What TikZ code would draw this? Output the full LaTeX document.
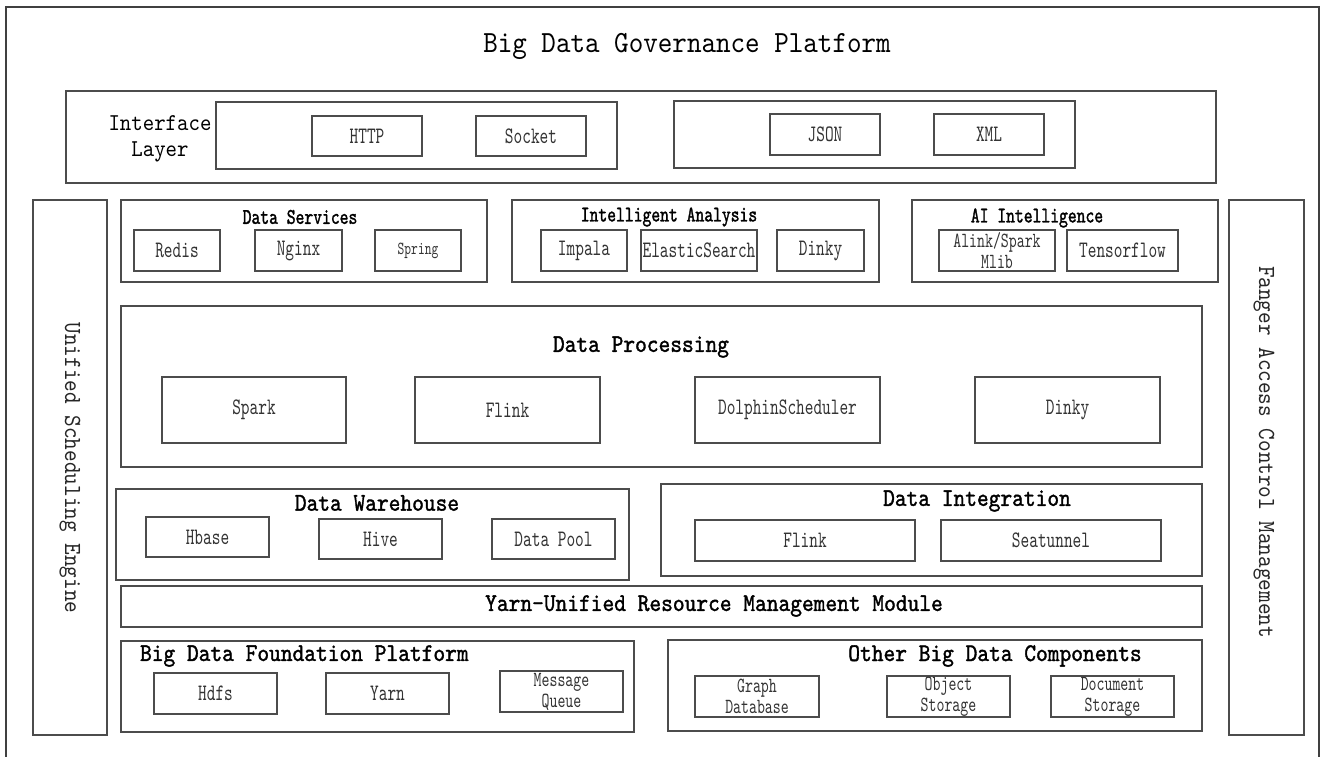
\documentclass[tikz,border=0pt]{standalone}
\usepackage{fontspec}
\setmainfont{lmmono10-regular.otf}[FakeStretch=0.9]
\newfontfamily\condfont{lmmono10-regular.otf}[FakeStretch=0.7]
\newfontfamily\headfont{lmmono10-regular.otf}[FakeStretch=0.88, FakeBold=1.4]
\newfontfamily\subheadfont{lmmono10-regular.otf}[FakeStretch=0.75, FakeBold=1.4]
\usetikzlibrary{fit}
\tikzset{
	frame/.style={draw=black!70, line width=0.7pt, inner sep=0pt},
	wh/.style 2 args={minimum width=#1*0.5pt, minimum height=#2*0.5pt},
	item/.style={frame, text=black!80, align=center, font=\condfont\fontsize{11.8}{12}\selectfont},
	twoline/.style={item, font=\condfont\fontsize{10.8}{10.6}\selectfont},
	head/.style={text=black, font=\subheadfont\fontsize{11.2}{12}\selectfont},
	layer/.style={text=black, font=\headfont\fontsize{12.7}{14}\selectfont},
	side/.style={text=black!85, rotate=-90, font=\fontsize{12.3}{14}\selectfont},
}
\begin{document}
\begin{tikzpicture}[x=0.5pt, y=-0.5pt]
	\useasboundingbox (0,0) rectangle (1320,756);
	% 外框
	\draw [black!75, line width=0.8pt] (6,770) -- (6,7) -- (1319,7) -- (1319,770);
	\node [font=\fontsize{15.4}{17}\selectfont] (title) at (687,46) {Big Data Governance Platform};
	% 接口层
	\node [frame, fit={(66,91) (1216,183)}] (iface) {};
	\node [align=center, font=\fontsize{12.1}{13}\selectfont] (ifacelabel) at (160,139) {Interface\\Layer};
	\node [frame, fit={(216,102) (617,169)}] (proto) {};
	\node [frame, fit={(674,101) (1075,168)}] (format) {};
	\node [item, wh={110}{40}] (http) at (367,136) {HTTP};
	\node [item, wh={110}{40}] (socket) at (531,136) {Socket};
	\node [item, wh={110}{41}] (json) at (825,134.5) {JSON};
	\node [item, wh={110}{41}] (xml) at (989,134.5) {XML};
	% 两侧
	\node [frame, fit={(33,200) (107,735)}] (sched) {};
	\node [side] (schedlabel) at (70,468) {Unified Scheduling Engine};
	\node [frame, fit={(1229,200) (1304,735)}] (acl) {};
	\node [side] (acllabel) at (1264,452) {Fanger Access Control Management};
	% 服务与分析
	\node [frame, fit={(121,200) (487,282)}] (svc) {};
	\node [head] (svclabel) at (300,217) {Data Services};
	\node [item, wh={86}{41}] (redis) at (177,250.5) {Redis};
	\node [item, wh={87}{41}] (nginx) at (298.5,250.5) {Nginx};
	\node [item, wh={86}{41}, font=\condfont\fontsize{9.2}{9}\selectfont] (spring) at (418,250.5) {Spring};
	\node [frame, fit={(512,200) (879,282)}] (ana) {};
	\node [head] (analabel) at (669,217) {Intelligent Analysis};
	\node [item, wh={86}{41}] (impala) at (584,250.5) {Impala};
	\node [item, wh={116}{41}] (es) at (699,250.5) {ElasticSearch};
	\node [item, wh={87}{41}] (dinkya) at (820.5,250.5) {Dinky};
	\node [frame, fit={(912,200) (1218,282)}] (ai) {};
	\node [head] (ailabel) at (1037,218) {AI Intelligence};
	\node [twoline, wh={116}{41}] (alink) at (997,250.5) {Alink/Spark\\Mlib};
	\node [item, wh={111}{41}] (tf) at (1122.5,250.5) {Tensorflow};
	% 数据处理
	\node [frame, fit={(121,306) (1202,467)}] (proc) {};
	\node [layer] (proclabel) at (641,347) {Data Processing};
	\node [item, wh={184}{66}] (spark) at (254,410) {Spark};
	\node [item, wh={185}{66}] (flinkp) at (507.5,410) {Flink};
	\node [item, wh={185}{66}] (dolphin) at (787.5,410) {DolphinScheduler};
	\node [item, wh={185}{66}] (dinkyp) at (1067.5,410) {Dinky};
	% 数仓与集成
	\node [frame, fit={(116,489) (629,580)}] (dw) {};
	\node [layer] (dwlabel) at (377,503) {Data Warehouse};
	\node [item, wh={123}{40}] (hbase) at (207.5,537) {Hbase};
	\node [item, wh={123}{40}] (hive) at (380.5,539) {Hive};
	\node [item, wh={123}{40}] (pool) at (553.5,539) {Data Pool};
	\node [frame, fit={(661,484) (1202,576)}] (di) {};
	\node [layer] (dilabel) at (977,501) {Data Integration};
	\node [item, wh={220}{41}] (flinki) at (805,540.5) {Flink};
	\node [item, wh={220}{41}] (sea) at (1051,540.5) {Seatunnel};
	% 资源管理
	\node [frame, fit={(121,586) (1202,627)}] (yarn) {};
	\node [layer] (yarnlabel) at (714,606) {Yarn-Unified Resource Management Module};
	% 基础平台
	\node [frame, fit={(121,641) (634,732)}] (base) {};
	\node [layer, anchor=west] (baselabel) at (133,656) {Big Data Foundation Platform};
	\node [item, wh={123}{41}] (hdfs) at (215.5,693.5) {Hdfs};
	\node [item, wh={123}{41}] (yarnb) at (387.5,693.5) {Yarn};
	\node [twoline, wh={123}{41}] (mq) at (561.5,691.5) {Message\\Queue};
	\node [frame, fit={(668,640) (1202,731)}] (other) {};
	\node [layer] (otherlabel) at (995,656) {Other Big Data Components};
	\node [twoline, wh={124}{41}] (graph) at (757,696.5) {Graph\\Database};
	\node [twoline, wh={123}{41}] (obj) at (948.5,696.5) {Object\\Storage};
	\node [twoline, wh={123}{41}] (doc) at (1112.5,696.5) {Document\\Storage};
\end{tikzpicture}
\end{document}
